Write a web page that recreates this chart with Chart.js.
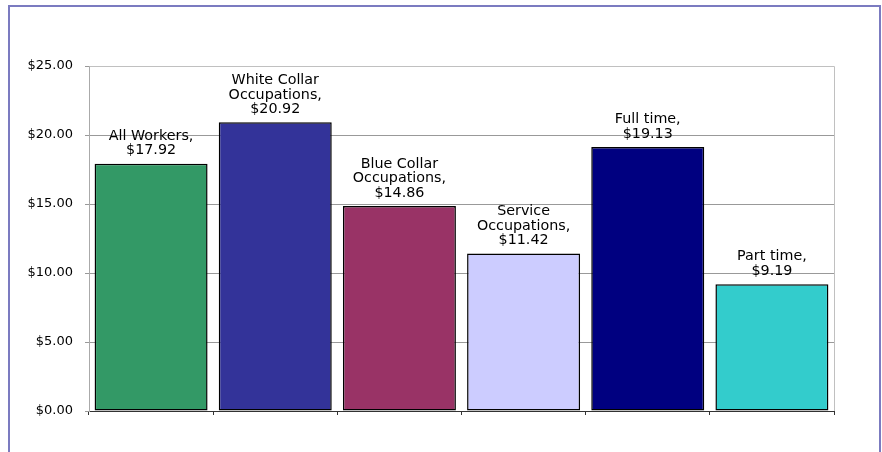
<!DOCTYPE html>
<html>
<head>
<meta charset="utf-8">
<script src="https://cdn.jsdelivr.net/npm/chart.js@4/dist/chart.umd.min.js"></script>
<style>
  html, body { margin: 0; padding: 0; background: #fff; }
  #wrap { width: 882px; height: 452px; position: relative; }
</style>
</head>
<body>
<div id="wrap"><canvas id="chart"></canvas></div>
<script>
// --- Data ---
const categories = [
    ['All Workers,'],
    ['White Collar', 'Occupations,'],
    ['Blue Collar', 'Occupations,'],
    ['Service', 'Occupations,'],
    ['Full time,'],
    ['Part time,']
];
const wages = [17.92, 20.92, 14.86, 11.42, 19.13, 9.19];
const barColors = ['#339966', '#333399', '#993366', '#CCCCFF', '#000080', '#33CCCC'];
const yTicks = [0, 5, 10, 15, 20, 25];

const FONT = 'Verdana, "DejaVu Sans", sans-serif';

// Outer frame and plot border
const framePlugin = {
    id: 'frame',
    beforeDatasetsDraw(chart) {
        const { ctx, chartArea: a } = chart;
        ctx.save();
        ctx.strokeStyle = '#c0c0c0';
        ctx.lineWidth = 1;
        ctx.beginPath();
        ctx.moveTo(a.left + 0.5, a.top + 0.5);
        ctx.lineTo(a.right + 0.5, a.top + 0.5);
        ctx.lineTo(a.right + 0.5, a.bottom);
        ctx.stroke();
        ctx.restore();
    },
    afterDraw(chart) {
        const { ctx } = chart;
        ctx.save();
        ctx.strokeStyle = '#7b7bc0';
        ctx.lineWidth = 2;
        ctx.beginPath();
        ctx.moveTo(9, 460);
        ctx.lineTo(9, 6);
        ctx.lineTo(880, 6);
        ctx.lineTo(880, 460);
        ctx.stroke();
        ctx.restore();
    }
};

// Labels above each bar
const labelPlugin = {
    id: 'barLabels',
    afterDatasetsDraw(chart) {
        const { ctx } = chart;
        const meta = chart.getDatasetMeta(0);
        ctx.save();
        ctx.font = '14.3px ' + FONT;
        ctx.fillStyle = '#000';
        ctx.textAlign = 'center';
        ctx.textBaseline = 'middle';
        meta.data.forEach((bar, i) => {
            const lines = categories[i].concat(['$' + wages[i].toFixed(2)]);
            const lineH = 14.4;
            let y = bar.y - 13 - (lines.length - 1) * lineH;
            lines.forEach(line => {
                ctx.fillText(line, bar.x, y);
                y += lineH;
            });
        });
        ctx.restore();
    }
};

new Chart(document.getElementById('chart'), {
    type: 'bar',
    data: {
        labels: categories.map(c => c.join(' ')),
        datasets: [{
            data: wages,
            backgroundColor: barColors,
            borderColor: '#000',
            borderWidth: 1.5,
            borderSkipped: false,
            barPercentage: 0.91,
            categoryPercentage: 1.0
        }]
    },
    options: {
        responsive: true,
        maintainAspectRatio: false,
        animation: false,
        layout: { padding: { top: 66, right: 48, left: 0, bottom: 0 } },
        plugins: {
            legend: { display: false },
            tooltip: { enabled: false }
        },
        scales: {
            x: {
                offset: true,
                ticks: { display: false },
                grid: {
                    offset: true,
                    drawOnChartArea: false,
                    drawTicks: true,
                    tickLength: 4,
                    color: '#333'
                },
                border: { color: '#333' },
                afterFit(scale) { scale.height = 41; }
            },
            y: {
                min: 0,
                max: 25,
                afterBuildTicks(scale) { scale.ticks = yTicks.map(v => ({ value: v })); },
                ticks: {
                    font: { family: FONT, size: 13 },
                    color: '#000',
                    padding: 12,
                    callback: v => '$' + Number(v).toFixed(2)
                },
                grid: {
                    color: '#999',
                    tickLength: 4
                },
                border: { color: '#aaa' },
                afterFit(scale) { scale.width = 89; }
            }
        }
    },
    plugins: [framePlugin, labelPlugin]
});
</script>
</body>
</html>
